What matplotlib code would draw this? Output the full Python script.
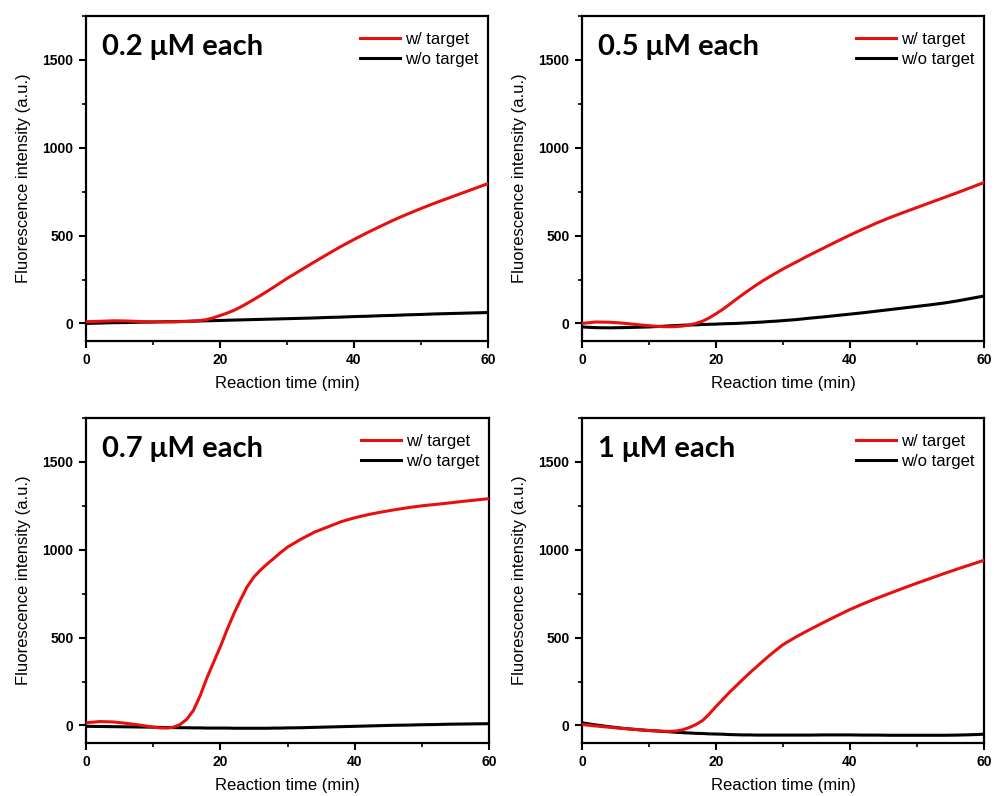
import matplotlib
matplotlib.use("Agg")
import matplotlib.pyplot as plt
from matplotlib.ticker import MultipleLocator

t = [0, 2, 4, 6, 8, 10, 11, 12, 13, 14, 15, 16, 17, 18, 19, 20, 21, 22, 23, 24, 25,
     26, 27, 28, 29, 30, 32, 34, 36, 38, 40, 42, 44, 46, 48, 50, 52, 54, 56, 58, 60]

titles = ["0.2 μM each", "0.5 μM each", "0.7 μM each", "1 μM each"]

red_02 = [10, 12, 15, 14, 11, 9, 9, 9, 9, 10, 11, 13, 16, 22, 32, 45, 58, 73, 92, 113, 135,
          158, 182, 206, 231, 256, 302, 348, 393, 437, 478, 517, 554, 590, 623, 654, 684, 712, 740, 768, 796]
blk_02 = [0, 2, 4, 5, 7, 8, 9, 10, 10, 11, 12, 13, 14, 15, 16, 17, 18, 19, 20, 21, 22,
          23, 24, 25, 26, 27, 29, 31, 34, 36, 39, 41, 44, 46, 49, 51, 54, 56, 58, 60, 62]

red_05 = [0, 8, 7, 2, -6, -13, -16, -18, -19, -18, -15, -9, 0, 13, 32, 55, 80, 108, 137, 165, 192,
          218, 243, 266, 288, 310, 350, 390, 428, 466, 503, 538, 572, 603, 632, 660, 688, 716, 744, 773, 802]
blk_05 = [-20, -24, -25, -24, -22, -20, -18, -16, -14, -12, -10, -9, -8, -6, -5, -4, -2, -1, 0, 2, 4,
          6, 8, 11, 13, 16, 22, 30, 37, 45, 53, 61, 70, 79, 88, 97, 106, 116, 128, 142, 156]

red_07 = [15, 22, 20, 12, 2, -10, -14, -15, -10, 5, 35, 86, 170, 270, 360, 448, 545, 635, 715, 790, 845,
          885, 920, 952, 985, 1015, 1060, 1100, 1130, 1160, 1182, 1200, 1215, 1228, 1240, 1250, 1258, 1266, 1275, 1283, 1291]
blk_07 = [-5, -6, -7, -8, -9, -10, -11, -12, -12, -13, -13, -14, -14, -15, -15, -15, -15, -16, -16, -16, -16,
          -16, -16, -15, -15, -14, -13, -11, -9, -7, -5, -3, -1, 1, 2, 4, 5, 7, 8, 9, 10]

red_1 = [5, -3, -10, -17, -23, -29, -31, -33, -34, -32, -25, -12, 5, 28, 65, 108, 148, 188, 225, 262, 298,
         332, 366, 399, 430, 460, 505, 546, 585, 623, 660, 693, 724, 753, 782, 810, 837, 864, 890, 915, 940]
blk_1 = [15, 3, -7, -16, -23, -29, -31, -34, -36, -39, -41, -43, -45, -46, -48, -49, -50, -52, -53, -54, -54,
         -55, -55, -55, -55, -55, -55, -55, -54, -54, -54, -55, -55, -56, -56, -56, -56, -56, -55, -53, -50]

reds = [red_02, red_05, red_07, red_1]
blks = [blk_02, blk_05, blk_07, blk_1]

xticks = [0, 20, 40, 60]
yticks = [0, 500, 1000, 1500]

W, H = 994, 796
fig = plt.figure(figsize=(W / 100, H / 100), dpi=100)

# axes boxes in pixel coords (left, top, right, bottom)
boxes = [(86, 16, 488, 341), (582, 16, 984, 341), (86, 418, 489, 743), (582, 418, 984, 743)]

for i, (l, tp, r, b) in enumerate(boxes):
    ax = fig.add_axes([l / W, 1 - b / H, (r - l) / W, (b - tp) / H])
    ax.plot(t, reds[i], color="#e8100f", lw=2.2, label="w/ target", zorder=3,
            solid_joinstyle="round")
    ax.plot(t, blks[i], color="black", lw=2.2, label="w/o target", zorder=2,
            solid_joinstyle="round")
    ax.set_xlim(0, 60)
    ax.set_ylim(-100, 1750)
    ax.set_xticks(xticks)
    ax.set_yticks(yticks)
    ax.xaxis.set_minor_locator(MultipleLocator(10))
    ax.yaxis.set_minor_locator(MultipleLocator(250))
    ax.tick_params(which="major", direction="out", length=5, width=1.5,
                   top=False, right=False, pad=4)
    ax.tick_params(which="minor", direction="out", length=3, width=1.2,
                   top=False, right=False)
    for lab in ax.get_xticklabels() + ax.get_yticklabels():
        lab.set_fontfamily("Liberation Sans")
        lab.set_fontweight("bold")
        lab.set_fontsize(10)
    for s in ax.spines.values():
        s.set_linewidth(1.6)
    ax.set_xlabel("Reaction time (min)", fontsize=12, family="Liberation Sans", labelpad=6)
    ax.set_ylabel("Fluorescence intensity (a.u.)", fontsize=12, family="Liberation Sans", labelpad=8)
    ax.text(0.04, 0.905, titles[i], transform=ax.transAxes, fontsize=21,
            fontweight="bold", family="Lato", va="center", ha="left")
    ax.legend(loc="upper right", bbox_to_anchor=(1.0, 0.98), frameon=False,
              handlelength=2.4, handletextpad=0.3, labelspacing=0.3,
              borderaxespad=0.15, prop={"family": "Liberation Sans", "size": 12})

fig.savefig("out.png", dpi=100)
